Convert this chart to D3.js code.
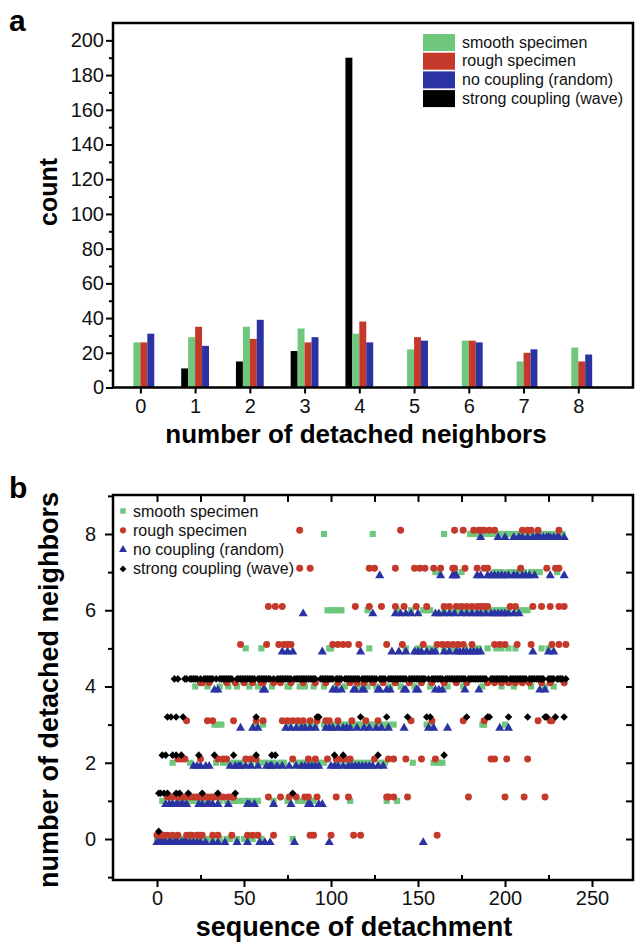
<!DOCTYPE html>
<html>
<head>
<meta charset="utf-8">
<script src="https://d3js.org/d3.v7.min.js"></script>
<style>
html,body{margin:0;padding:0;background:#fff;}
svg{display:block;font-family:"Liberation Sans",Arial,Helvetica,sans-serif;}
</style>
</head>
<body>
<svg id="chart" width="635" height="943"></svg>
<script>
// ---------------- DATA ----------------
const seriesNames = ["smooth specimen", "rough specimen", "no coupling (random)", "strong coupling (wave)"];

// panel a: counts per number of detached neighbors
const aCategories = [0, 1, 2, 3, 4, 5, 6, 7, 8];
const aSmooth = [26, 29, 35, 34, 31, 22, 27, 15, 23];
const aRough  = [26, 35, 28, 26, 38, 29, 27, 20, 15];
const aRandom = [31, 24, 39, 29, 26, 27, 26, 22, 19];
const aWave   = [0, 11, 15, 21, 190, 0, 0, 0, 0];
const aYTicks = [0, 20, 40, 60, 80, 100, 120, 140, 160, 180, 200];
const aYMinor = [10, 30, 50, 70, 90, 110, 130, 150, 170, 190];

// panel b: sequence numbers of detachment, grouped by number of detached neighbors (index 0..8)
const bSmooth = [
  [0,1,3,5,6,8,9,11,13,14,16,17,21,23,26,29,32,36,40,42,46,50,52,55,60,78],
  [3,8,13,15,19,21,23,25,27,29,31,36,40,44,47,50,52,55,58,67,75,81,83,85,88,90,111,132,138],
  [9,19,34,38,40,44,47,50,54,58,61,64,67,71,73,80,83,85,87,89,93,96,104,110,112,114,117,120,123,129,131,147,159,162,164],
  [33,35,37,57,61,75,81,85,88,91,96,98,100,102,104,106,108,110,112,114,116,118,120,122,124,127,130,133,136,155,158,187,188,200],
  [22,29,36,41,46,53,58,66,75,76,82,85,90,96,103,108,116,121,126,134,140,148,157,167,176,187,198,205,215,223,228],
  [51,60,99,100,122,143,150,156,160,165,169,172,177,182,185,190,195,198,202,206,221,225],
  [98,100,102,104,106,121,138,146,153,155,157,165,170,173,177,180,183,188,191,194,196,198,200,202,207,210,213],
  [160,162,171,175,194,196,198,202,205,208,211,215,217,220,230],
  [96,124,165,180,183,186,189,192,195,197,200,202,204,206,209,212,215,218,222,224,227,230,233]
];
const bRough = [
  [0,2,3,4,6,9,12,17,19,20,23,24,26,32,35,43,52,55,58,67,88,90,100,113,117,161],
  [6,9,12,14,16,19,21,23,25,27,29,31,33,35,38,41,43,44,64,71,76,80,85,87,92,103,110,132,133,136,144,179,200,211,223],
  [12,14,16,25,35,38,40,51,54,57,78,87,91,98,103,106,108,111,125,133,136,143,152,160,192,194,201,213],
  [17,29,32,44,57,61,72,75,78,81,84,88,92,97,99,104,112,120,127,146,158,176,188,219,226,227],
  [25,26,30,40,45,50,55,60,61,67,71,77,84,91,97,104,111,115,119,124,130,137,145,152,158,165,172,178,190,194,198,202,206,210,214,221,226,234],
  [48,63,70,73,75,77,101,104,107,110,116,132,141,153,161,164,167,170,173,176,181,194,197,200,207,215,227,231,235],
  [64,68,72,114,122,129,137,142,149,155,165,168,172,175,178,181,184,186,188,190,203,206,216,221,226,231,234],
  [82,88,122,125,137,148,151,154,159,163,170,171,177,184,188,190,209,224,229,231],
  [82,140,171,176,182,185,186,188,191,194,210,213,215,219,231]
];
const bRandom = [
  [0,1,2,3,4,5,7,8,10,11,12,14,15,16,17,19,21,23,25,28,32,35,39,46,52,59,62,65,79,99,153],
  [5,7,9,11,12,14,15,17,24,26,29,30,32,35,41,52,53,56,67,77,87,88,93,95],
  [21,23,25,28,30,42,45,47,48,51,54,58,63,65,66,69,72,76,80,83,85,87,89,91,93,100,102,104,107,110,112,114,116,118,120,122,124,127,130],
  [48,55,58,74,77,80,83,85,88,91,97,99,101,104,107,109,111,115,119,122,126,129,133,142,156,159,167,197,202],
  [33,35,61,62,101,103,106,113,114,118,119,127,128,132,134,142,143,149,150,160,162,164,177,185,220,223],
  [72,75,78,95,117,135,139,143,148,150,152,155,158,160,165,168,172,174,176,178,180,182,184,186,216,225,228],
  [84,124,137,140,143,146,150,160,162,165,168,171,175,178,181,184,186,189,192,194,196,198,200,202,205,208],
  [128,163,170,171,172,184,186,190,192,194,196,198,200,202,205,207,210,212,214,217,226,234],
  [186,196,200,205,208,210,213,216,218,219,220,222,224,225,226,228,230,231,234]
];
const bWave = [
  [1],
  [1,2,4,6,11,13,18,26,35,45,78],
  [3,5,9,11,14,24,33,44,57,66,68,102,107,127,165],
  [6,8,11,15,57,92,93,117,132,144,155,157,178,190,191,202,213,223,224,229,234],
  [10,12,16,17,19,20,21,22,23,25,27,28,29,30,31,32,34,36,37,38,39,40,41,42,43,46,47,48,49,50,51,52,53,54,55,56,58,59,60,61,62,63,64,65,67,69,70,71,72,73,74,75,76,77,79,80,81,82,83,84,85,86,87,88,89,90,91,94,95,96,97,98,99,100,101,103,104,105,106,108,109,110,111,112,113,114,115,116,118,119,120,121,122,123,124,125,126,128,129,130,131,133,134,135,136,137,138,139,140,141,142,143,145,146,147,148,149,150,151,152,153,154,156,158,159,160,161,162,163,164,166,167,168,169,170,171,172,173,174,175,176,177,179,180,181,182,183,184,185,186,187,188,189,192,193,194,195,196,197,198,199,200,201,203,204,205,206,207,208,209,210,211,212,214,215,216,217,218,219,220,221,222,225,226,227,228,230,231,232,233,235],
  [], [], [], []
];
const bXTicks = [0, 50, 100, 150, 200, 250];
const bYTicks = [0, 2, 4, 6, 8];

// ---------------- STYLE ----------------
const colors = { smooth: "#6fc77d", rough: "#c4392a", random: "#2b33a3", wave: "#000000" };
const FONT = '"Liberation Sans", Arial, Helvetica, sans-serif';

const svg = d3.select("#chart");

// ================= PANEL A =================
const A = { left: 113, right: 633, top: 23, bottom: 387.5 };
const xA = d3.scaleLinear().domain([-0.5, 9]).range([A.left, A.right]);
const yA = d3.scaleLinear().domain([0, 210]).range([A.bottom, A.top]);
const bw = 0.127; // bar width in category units

const gA = svg.append("g");
const barSeries = [
  { vals: aWave,   color: colors.wave,   off: -2 },
  { vals: aSmooth, color: colors.smooth, off: -1 },
  { vals: aRough,  color: colors.rough,  off: 0 },
  { vals: aRandom, color: colors.random, off: 1 }
];
barSeries.forEach(s => {
  gA.append("g").selectAll("rect")
    .data(aCategories.map((c, i) => ({ c, v: s.vals[i] })).filter(d => d.v > 0))
    .join("rect")
    .attr("x", d => xA(d.c + s.off * bw))
    .attr("width", d => xA(d.c + (s.off + 1) * bw) - xA(d.c + s.off * bw))
    .attr("y", d => yA(d.v))
    .attr("height", d => yA(0) - yA(d.v))
    .attr("fill", s.color);
});

// axes a
const axA_L = gA.append("g").attr("transform", `translate(${A.left},0)`)
  .call(d3.axisLeft(yA).tickValues(aYTicks).tickSize(7).tickPadding(2).tickFormat(d3.format("d")));
const axA_Lm = gA.append("g").attr("transform", `translate(${A.left},0)`)
  .call(d3.axisLeft(yA).tickValues(aYMinor).tickSize(4).tickFormat(""));
const axA_B = gA.append("g").attr("transform", `translate(0,${A.bottom})`)
  .call(d3.axisBottom(xA).tickValues(aCategories).tickSize(6).tickPadding(5).tickFormat(d3.format("d")));
[axA_L, axA_Lm, axA_B].forEach(g => {
  g.select(".domain").remove();
  g.selectAll("line").attr("stroke", "#000").attr("stroke-width", 2);
  g.selectAll("text").attr("font-family", FONT).attr("font-size", 20).attr("fill", "#111");
});
gA.append("rect").attr("x", A.left).attr("y", A.top)
  .attr("width", A.right - A.left).attr("height", A.bottom - A.top)
  .attr("fill", "none").attr("stroke", "#000").attr("stroke-width", 2.5);

// legend a
const legA = gA.append("g");
const legAItems = [
  { name: seriesNames[0], color: colors.smooth },
  { name: seriesNames[1], color: colors.rough },
  { name: seriesNames[2], color: colors.random },
  { name: seriesNames[3], color: colors.wave }
];
legAItems.forEach((d, i) => {
  const y0 = 34 + i * 18.7;
  legA.append("rect").attr("x", 423).attr("y", y0).attr("width", 32).attr("height", 17).attr("fill", d.color);
  legA.append("text").attr("x", 462).attr("y", y0 + 13.5).text(d.name)
    .attr("font-family", FONT).attr("font-size", 16).attr("fill", "#111");
});

// titles a
svg.append("text").attr("x", 9).attr("y", 31).text("a")
  .attr("font-family", FONT).attr("font-weight", "bold").attr("font-size", 30);
svg.append("text").attr("transform", "translate(57,192) rotate(-90)").attr("text-anchor", "middle")
  .text("count").attr("font-family", FONT).attr("font-weight", "bold").attr("font-size", 25);
svg.append("text").attr("x", 356).attr("y", 443).attr("text-anchor", "middle")
  .text("number of detached neighbors").attr("font-family", FONT).attr("font-weight", "bold").attr("font-size", 26);

// ================= PANEL B =================
const B = { left: 113, right: 633, top: 495, bottom: 880 };
const xB = d3.scaleLinear().domain([0, 250]).range([157, 592]);
const yB = d3.scaleLinear().domain([0, 8]).range([839, 534]);
const gB = svg.append("g");

const scatterSeries = [
  { data: bSmooth, color: colors.smooth, type: d3.symbolSquare,   size: 38, dy: 0.0 },
  { data: bRandom, color: colors.random, type: d3.symbolTriangle, size: 36, dy: -0.09 },
  { data: bRough,  color: colors.rough,  type: d3.symbolCircle,   size: 38, dy: 0.1 },
  { data: bWave,   color: colors.wave,   type: d3.symbolDiamond2, size: 36, dy: 0.2 }
];
scatterSeries.forEach(s => {
  const pts = [];
  s.data.forEach((xs, level) => xs.forEach(x => pts.push({ x, level })));
  gB.append("g").selectAll("path").data(pts).join("path")
    .attr("d", d3.symbol().type(s.type).size(s.size))
    .attr("transform", d => `translate(${xB(d.x)},${yB(d.level + s.dy)})`)
    .attr("fill", s.color);
});

// axes b
const bXMinor = [25, 75, 125, 175, 225];
const bYMinor = [-1, 1, 3, 5, 7, 9];
const bTopTicks = [0, 25, 50, 75, 100, 125, 150, 175, 200, 225, 250];
const bRightTicks = [0, 1, 2, 3, 4, 5, 6, 7, 8];
const axes = [];
axes.push(gB.append("g").attr("transform", `translate(${B.left},0)`)
  .call(d3.axisLeft(yB).tickValues(bYTicks).tickSize(8).tickPadding(9).tickFormat(d3.format("d"))));
axes.push(gB.append("g").attr("transform", `translate(${B.left},0)`)
  .call(d3.axisLeft(yB).tickValues(bYMinor.filter(v => yB(v) > B.top && yB(v) < B.bottom)).tickSize(5).tickFormat("")));
axes.push(gB.append("g").attr("transform", `translate(0,${B.bottom})`)
  .call(d3.axisBottom(xB).tickValues(bXTicks).tickSize(7).tickPadding(4).tickFormat(d3.format("d"))));
axes.push(gB.append("g").attr("transform", `translate(0,${B.bottom})`)
  .call(d3.axisTop(xB).tickValues(bXMinor).tickSize(5).tickFormat("")));
axes.push(gB.append("g").attr("transform", `translate(0,${B.top})`)
  .call(d3.axisBottom(xB).tickValues(bTopTicks).tickSize(7).tickFormat("")));
axes.push(gB.append("g").attr("transform", `translate(${B.right},0)`)
  .call(d3.axisLeft(yB).tickValues(bRightTicks).tickSize(7).tickFormat("")));
axes.forEach(g => {
  g.select(".domain").remove();
  g.selectAll("line").attr("stroke", "#000").attr("stroke-width", 2);
  g.selectAll("text").attr("font-family", FONT).attr("font-size", 20).attr("fill", "#111");
});
gB.append("rect").attr("x", B.left).attr("y", B.top)
  .attr("width", B.right - B.left).attr("height", B.bottom - B.top)
  .attr("fill", "none").attr("stroke", "#000").attr("stroke-width", 2.5);

// legend b
const legB = gB.append("g");
const legBItems = [
  { name: seriesNames[0], color: colors.smooth, type: d3.symbolSquare,   size: 30 },
  { name: seriesNames[1], color: colors.rough,  type: d3.symbolCircle,   size: 30 },
  { name: seriesNames[2], color: colors.random, type: d3.symbolTriangle, size: 28 },
  { name: seriesNames[3], color: colors.wave,   type: d3.symbolDiamond2, size: 30 }
];
legBItems.forEach((d, i) => {
  const yc = 511 + i * 19.3;
  legB.append("path").attr("d", d3.symbol().type(d.type).size(d.size)())
    .attr("transform", `translate(123,${yc})`).attr("fill", d.color);
  legB.append("text").attr("x", 133).attr("y", yc + 5.5).text(d.name)
    .attr("font-family", FONT).attr("font-size", 16).attr("fill", "#111");
});

// titles b
svg.append("text").attr("x", 9).attr("y", 498).text("b")
  .attr("font-family", FONT).attr("font-weight", "bold").attr("font-size", 30);
svg.append("text").attr("transform", "translate(58,690) rotate(-90)").attr("text-anchor", "middle")
  .text("number of detached neighbors").attr("font-family", FONT).attr("font-weight", "bold").attr("font-size", 27);
svg.append("text").attr("x", 354).attr("y", 936).attr("text-anchor", "middle")
  .text("sequence of detachment").attr("font-family", FONT).attr("font-weight", "bold").attr("font-size", 27);
</script>
</body>
</html>
